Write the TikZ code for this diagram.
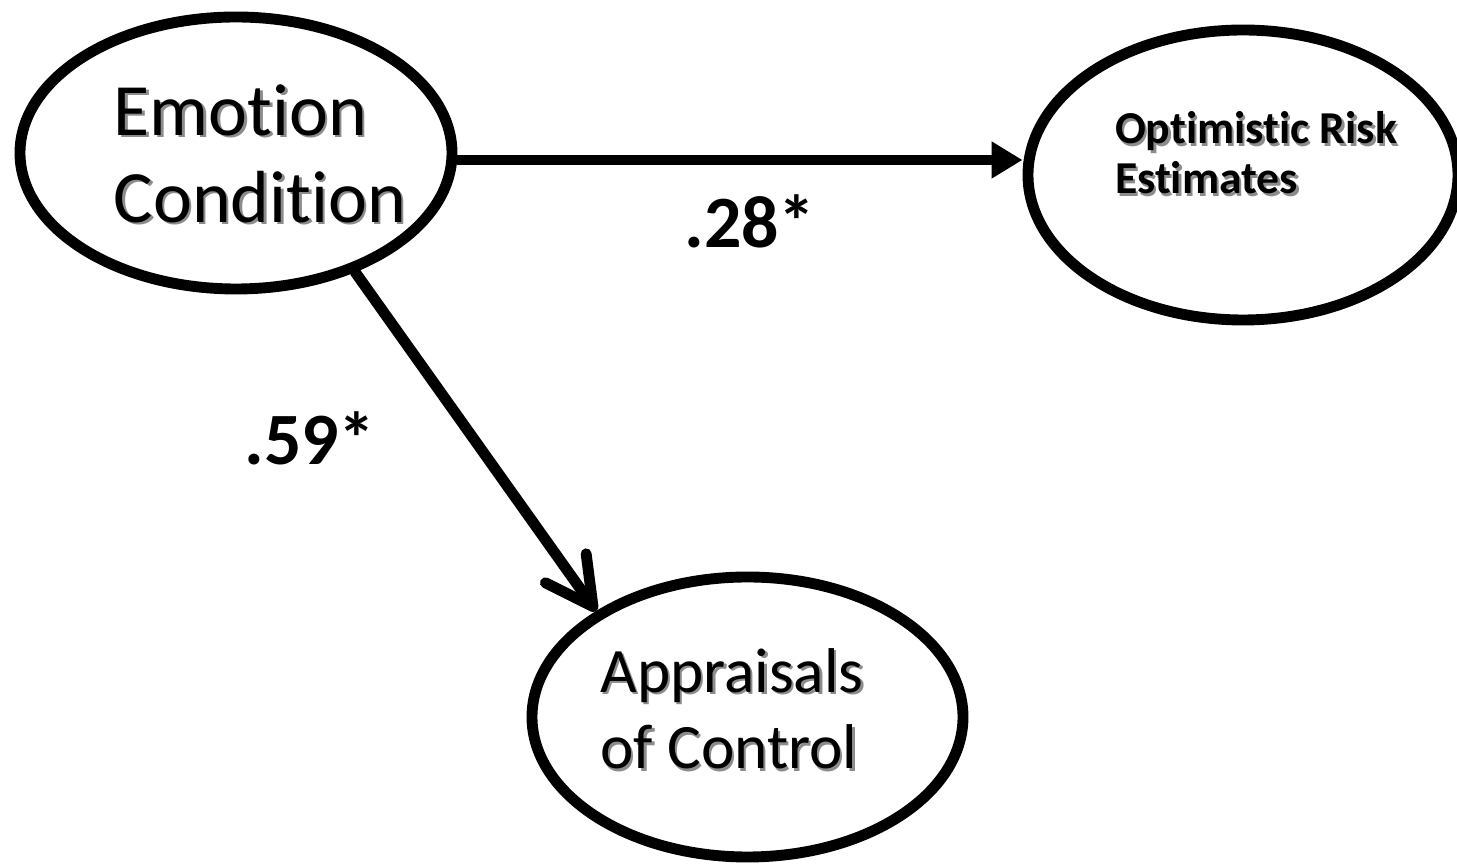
\documentclass[tikz,border=0pt]{standalone}
\usepackage{fontspec}
\setmainfont{Carlito}[Ligatures = NoCommon]
\usepackage{tikz}
\usetikzlibrary{shapes.geometric,arrows.meta}

\newcommand{\shad}[1]{\rlap{\hspace{0.7pt}\raisebox{-0.7pt}{\color{black!45}#1}}#1}

\begin{document}
\begin{tikzpicture}[
    oval/.style = {ellipse, draw, line width = 3.1pt, inner sep = 0pt},
    nodetext/.style = {align = left, inner sep = 0pt},
    weight/.style = {inner sep = 0pt, font = \fontsize{21}{24}\selectfont\bfseries},
    arr/.style = {line width = 3.1pt, -{Triangle[length = 0.31cm, width = 0.35cm]}},
    barb/.style = {line width = 3.1pt, line cap = round, -{Straight Barb[length = 0.47cm, width = 0.5cm, round]}}
    ]
        \useasboundingbox (0,0) rectangle (14.57,8.66);

        \node [oval, minimum width = 4.32cm, minimum height = 2.72cm] (emo) at (2.36,7.13) {};
        \node [oval, minimum width = 4.30cm, minimum height = 2.90cm] (opt) at (12.43,6.91) {};
        \node [oval, minimum width = 4.31cm, minimum height = 2.80cm] (app) at (7.475,1.49) {};

        \node [nodetext, font = \fontsize{21}{24.8}\selectfont] (emotxt) at (2.60,7.11) {\shad{Emotion}\\ \shad{Condition}};
        \node [nodetext, font = \fontsize{13}{14.2}\selectfont\bfseries] (opttxt) at (12.56,7.12) {\shad{Optimistic Risk}\\ \shad{Estimates}};
        \node [nodetext, font = \fontsize{18}{21.9}\selectfont] (apptxt) at (7.32,1.56) {\shad{Appraisals}\\ \shad{of Control}};

        \draw [arr] ([yshift = -0.07cm]emo.east) -- ([yshift = -0.07cm]emo.east -| opt.west);
        \draw [barb] (emo.-45) -- (app.145);

        \node [weight] (w28) at (7.50,6.45) {.28*};
        \node [weight] (w59) at (3.10,4.28) {.59*};
    \end{tikzpicture}
\end{document}
